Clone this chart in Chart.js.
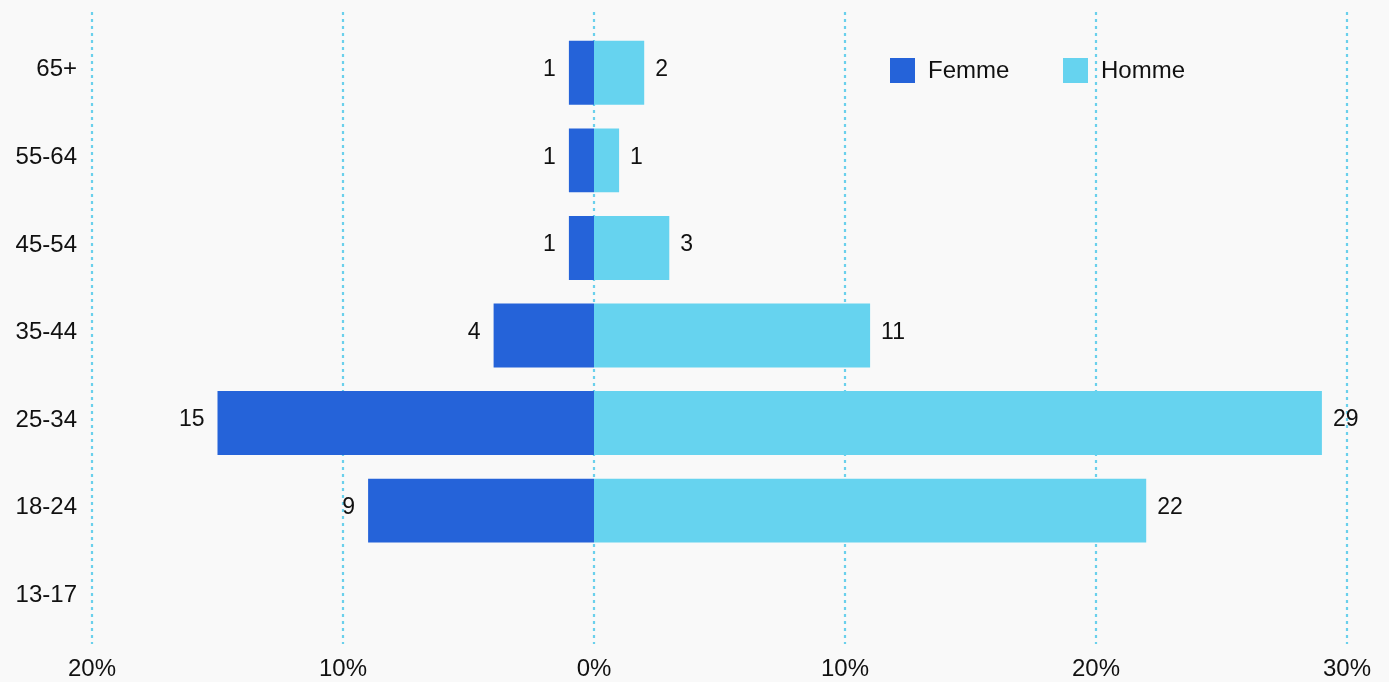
<!DOCTYPE html>
<html lang="fr">
<head>
<meta charset="utf-8">
<title>Répartition par âge et par sexe</title>
<script src="https://cdn.jsdelivr.net/npm/chart.js@4/dist/chart.umd.min.js"></script>
<style>
  html, body { margin: 0; padding: 0; background: #f9f9f9; }
  #wrap { width: 1389px; height: 682px; position: relative; }
</style>
</head>
<body>
<div id="wrap"><canvas id="pyramid" width="1389" height="682"></canvas></div>
<script>
// Age groups, top to bottom
const ageGroups = ['65+', '55-64', '45-54', '35-44', '25-34', '18-24', '13-17'];
// Share of audience (%) per age group
const femmeValues = [1, 1, 1, 4, 15, 9, 0];
const hommeValues = [2, 1, 3, 11, 29, 22, 0];
// Axis range and step (%)
const axisMin = -20;
const axisMax = 30;
const axisStep = 10;
const seriesNames = ['Femme', 'Homme'];

const COLOR_FEMME = '#2563d9';
const COLOR_HOMME = '#66d3ef';
const GRID_COLOR = '#6ad0ec';
const TEXT_COLOR = '#111111';
const FONT_FAMILY = '"Liberation Sans", Arial, Helvetica, sans-serif';

// Dotted vertical grid lines, running slightly above the plot area
const dottedGrid = {
  id: 'dottedGrid',
  beforeDatasetsDraw(chart) {
    const { ctx, chartArea, scales } = chart;
    ctx.save();
    ctx.strokeStyle = GRID_COLOR;
    ctx.lineWidth = 2.2;
    ctx.setLineDash([3, 4]);
    scales.x.ticks.forEach(t => {
      const px = Math.round(scales.x.getPixelForValue(t.value));
      ctx.beginPath();
      ctx.moveTo(px, chartArea.top - 17);
      ctx.lineTo(px, chartArea.bottom + 2);
      ctx.stroke();
    });
    ctx.restore();
  }
};

// Value labels beside each bar end (absolute values)
const barValues = {
  id: 'barValues',
  afterDatasetsDraw(chart) {
    const { ctx } = chart;
    ctx.save();
    ctx.font = '23px ' + FONT_FAMILY;
    ctx.fillStyle = TEXT_COLOR;
    ctx.textBaseline = 'middle';
    chart.data.datasets.forEach((ds, di) => {
      const meta = chart.getDatasetMeta(di);
      meta.data.forEach((bar, i) => {
        const v = ds.data[i];
        if (!v) return;
        const label = String(Math.abs(v));
        if (v < 0) {
          ctx.textAlign = 'right';
          ctx.fillText(label, bar.x - 13, bar.y - 3);
        } else {
          ctx.textAlign = 'left';
          ctx.fillText(label, bar.x + 11, bar.y - 3);
        }
      });
    });
    ctx.restore();
  }
};

// Legend placed inside the plot area, upper right
const insideLegend = {
  id: 'insideLegend',
  afterDraw(chart) {
    const { ctx, chartArea } = chart;
    const items = [
      { text: seriesNames[0], color: COLOR_FEMME, x: chartArea.left + 798 },
      { text: seriesNames[1], color: COLOR_HOMME, x: chartArea.left + 971 }
    ];
    const y = chartArea.top + 29;
    ctx.save();
    ctx.font = '24px ' + FONT_FAMILY;
    ctx.textBaseline = 'middle';
    ctx.textAlign = 'left';
    items.forEach(it => {
      ctx.fillStyle = it.color;
      ctx.fillRect(it.x, y, 25, 25);
      ctx.fillStyle = TEXT_COLOR;
      ctx.fillText(it.text, it.x + 38, y + 13);
    });
    ctx.restore();
  }
};

new Chart(document.getElementById('pyramid'), {
  type: 'bar',
  data: {
    labels: ageGroups,
    datasets: [
      {
        label: seriesNames[0],
        data: femmeValues.map(v => -v),
        backgroundColor: COLOR_FEMME,
        borderWidth: 0,
        barPercentage: 0.73,
        categoryPercentage: 1
      },
      {
        label: seriesNames[1],
        data: hommeValues,
        backgroundColor: COLOR_HOMME,
        borderWidth: 0,
        barPercentage: 0.73,
        categoryPercentage: 1
      }
    ]
  },
  options: {
    indexAxis: 'y',
    responsive: false,
    animation: false,
    layout: { padding: { top: 29, right: 42, left: 0, bottom: 0 } },
    plugins: {
      legend: { display: false },
      tooltip: { enabled: false }
    },
    scales: {
      x: {
        stacked: true,
        min: axisMin,
        max: axisMax,
        border: { display: false },
        grid: { display: false },
        ticks: {
          stepSize: axisStep,
          padding: 5,
          color: TEXT_COLOR,
          font: { family: FONT_FAMILY, size: 24 },
          callback: v => Math.abs(v) + '%'
        },
        afterFit: s => { s.height = 40; }
      },
      y: {
        stacked: true,
        border: { display: false },
        grid: { display: false },
        ticks: {
          padding: 7,
          labelOffset: -3,
          color: TEXT_COLOR,
          font: { family: FONT_FAMILY, size: 24 }
        },
        afterFit: s => { s.width = 92; }
      }
    }
  },
  plugins: [dottedGrid, barValues, insideLegend]
});
</script>
</body>
</html>
